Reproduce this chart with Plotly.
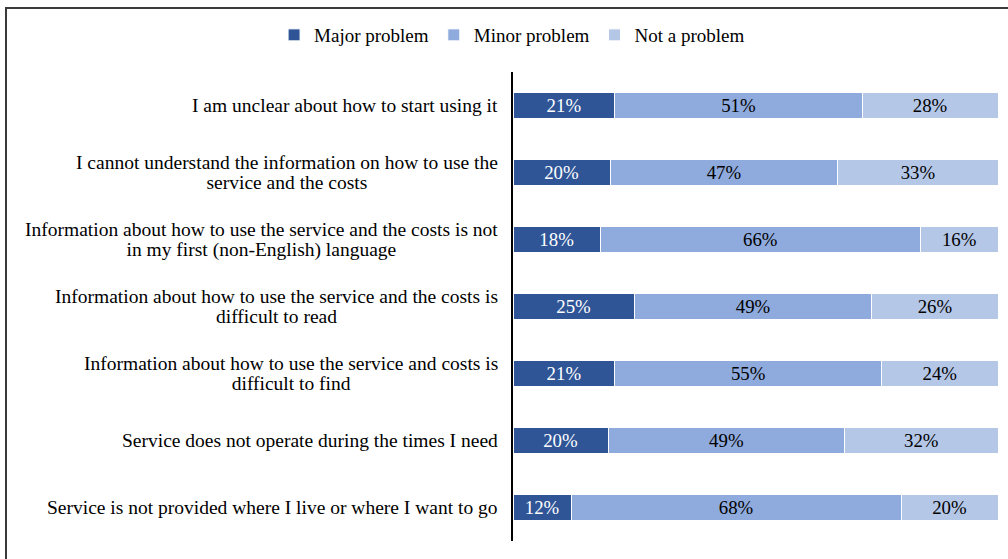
import plotly.graph_objects as go

categories = [
    "I am unclear about how to start using it",
    "I cannot understand the information on how to use the<br>service and the costs",
    "Information about how to use the service and the costs is not<br>in my first (non-English) language",
    "Information about how to use the service and the costs is<br>difficult to read",
    "Information about how to use the service and costs is<br>difficult to find",
    "Service does not operate during the times I need",
    "Service is not provided where I live or where I want to go",
]
major = [21, 20, 18, 25, 21, 19.6, 12]
minor = [51, 47, 66, 49, 55, 48.8, 68]
not_problem = [28, 33, 16, 26, 24, 31.6, 20]
series_names = ["Major problem", "Minor problem", "Not a problem"]
colors = ["#2F5597", "#8FAADC", "#B4C7E7"]
text_colors = ["white", "black", "black"]

FONT = "Liberation Serif, Times New Roman, serif"
LABEL_SIZE = 19.5
LINE_GAP = 21
PLOTLY_LINE = 1.3 * LABEL_SIZE

fig = go.Figure()
for name, vals, col, tcol in zip(series_names, [major, minor, not_problem], colors, text_colors):
    fig.add_trace(go.Bar(
        y=categories, x=vals, name=name, orientation="h",
        marker=dict(color=col, line=dict(color="white", width=1)),
        texttemplate="%{x:.0f}%", textposition="inside", insidetextanchor="middle",
        textfont=dict(color=tcol, size=19, family=FONT),
        hoverinfo="skip",
    ))

# Category labels: centred lines with tighter line spacing than plotly's default
XSHIFT = 500 - 513
for c in categories:
    lines = c.split("<br>")
    fnt = dict(size=LABEL_SIZE, family=FONT, color="black")
    if len(lines) == 1:
        fig.add_annotation(x=0, xref="paper", y=c, yref="y", text=c, showarrow=False,
                           xanchor="right", yanchor="middle", xshift=XSHIFT, font=fnt)
    else:
        first, second = lines
        fig.add_annotation(x=0, xref="paper", y=c, yref="y", text=first, showarrow=False,
                           xanchor="right", yanchor="middle", xshift=XSHIFT,
                           yshift=LINE_GAP / 2, font=fnt)
        hidden = "<span style='color:rgba(0,0,0,0)'>" + first + "</span><br>" + second
        fig.add_annotation(x=0, xref="paper", y=c, yref="y", text=hidden, showarrow=False,
                           xanchor="right", yanchor="middle", align="center", xshift=XSHIFT,
                           yshift=PLOTLY_LINE / 2 - LINE_GAP / 2, font=fnt)

W, H = 1008, 559
L, R, T, B = 513, 10, 72, 18
pw, ph = W - L - R, H - T - B
fig.add_shape(
    type="rect", xref="paper", yref="paper",
    x0=(6 - L) / pw, x1=(1020 - L) / pw,
    y0=1 - (580 - T) / ph, y1=1 - (8 - T) / ph,
    line=dict(color="#3a3a3a", width=2), fillcolor="rgba(0,0,0,0)", layer="below",
)

fig.update_layout(
    width=W, height=H, barmode="stack", bargap=0.6,
    margin=dict(l=L, r=R, t=T, b=B),
    plot_bgcolor="white", paper_bgcolor="white",
    font=dict(family=FONT, size=19, color="black"),
    showlegend=True,
    legend=dict(orientation="h", xref="container", yref="container", x=0.508, xanchor="center",
                y=1 - 35 / H, yanchor="middle", font=dict(size=19, family=FONT),
                traceorder="normal", itemwidth=30, bgcolor="rgba(0,0,0,0)"),
    uniformtext=dict(mode="show", minsize=10),
)
fig.update_xaxes(range=[0, 100], visible=False, fixedrange=True)
fig.update_yaxes(autorange="reversed", showticklabels=False, ticks="", showgrid=False,
                 showline=True, linecolor="black", linewidth=1.5, zeroline=False, fixedrange=True)

fig.write_html("out.html", config={"displayModeBar": False},
               post_script="document.body.style.margin='0';document.body.style.overflow='hidden';")
